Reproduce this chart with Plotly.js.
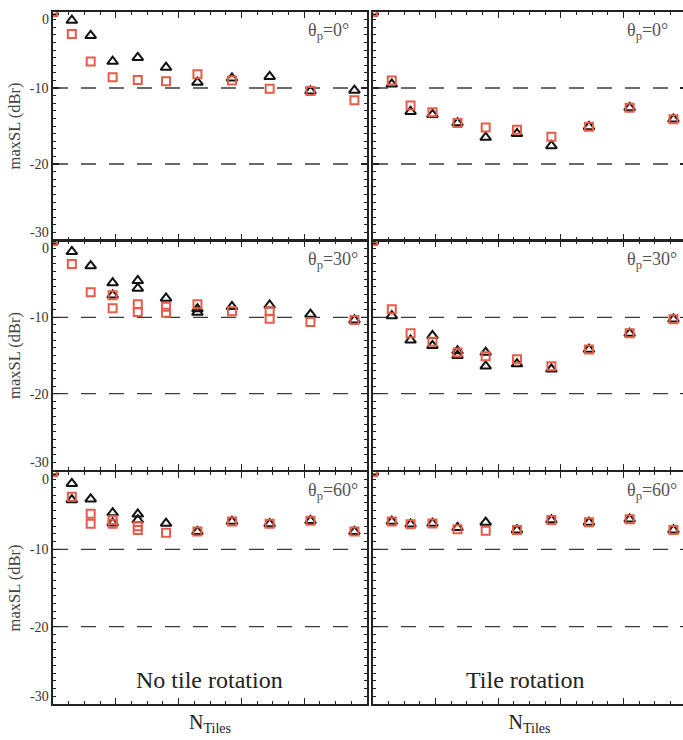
<!DOCTYPE html>
<html>
<head>
<meta charset="utf-8">
<script src="https://cdn.plot.ly/plotly-3.0.1.min.js"></script>
<style>
html,body{margin:0;padding:0;overflow:hidden;background:#fff;}
#chart{width:690px;height:740px;}
</style>
</head>
<body>
<div id="chart"></div>
<script>
// ---------- data ----------
var nTiles = [0, 6, 12, 19, 27, 36, 46, 57, 69, 82, 96];

// Panel: no tile rotation, theta_p = 0
var triX_NR0 = nTiles;
var triY_NR0 = [0, -1.1, -3.1, -6.5, -6.0, -7.3, -9.25, -8.7, -8.5, -10.4, -10.3];
var sqX_NR0 = nTiles;
var sqY_NR0 = [0, -2.9, -6.5, -8.6, -8.95, -9.1, -8.2, -9.0, -10.1, -10.4, -11.6];

// Panel: tile rotation, theta_p = 0
var triX_R0 = nTiles;
var triY_R0 = [0, -9.5, -13.1, -13.5, -14.6, -16.5, -16.0, -17.6, -15.1, -12.6, -14.1];
var sqX_R0 = nTiles;
var sqY_R0 = [0, -9.0, -12.3, -13.2, -14.6, -15.2, -15.5, -16.4, -15.1, -12.6, -14.1];

// Panel: no tile rotation, theta_p = 30
var triX_NR30 = [0, 6, 12, 19, 19, 27, 27, 36, 46, 46, 57, 69, 82, 96];
var triY_NR30 = [0, -1.4, -3.25, -5.5, -7.1, -5.2, -6.2, -7.5, -8.9, -9.35, -8.6, -8.4, -9.6, -10.35];
var sqX_NR30 = [0, 6, 12, 19, 19, 27, 27, 36, 36, 46, 57, 69, 69, 82, 96];
var sqY_NR30 = [0, -3.0, -6.7, -7.1, -8.8, -8.3, -9.3, -8.6, -9.4, -8.3, -9.2, -9.2, -10.2, -10.6, -10.35];

// Panel: tile rotation, theta_p = 30
var triX_R30 = [0, 6, 12, 19, 19, 27, 27, 36, 36, 46, 57, 69, 82, 96];
var triY_R30 = [0, -9.8, -13.0, -12.4, -13.7, -14.4, -15.0, -14.6, -16.4, -16.1, -16.8, -14.2, -12.1, -10.25];
var sqX_R30 = nTiles;
var sqY_R30 = [0, -8.95, -12.1, -13.2, -14.6, -15.1, -15.5, -16.4, -14.2, -12.1, -10.25];

// Panel: no tile rotation, theta_p = 60
var triX_NR60 = [0, 6, 6, 12, 19, 19, 27, 27, 36, 46, 57, 69, 82, 96];
var triY_NR60 = [0, -1.5, -3.6, -3.5, -5.3, -6.6, -5.45, -6.2, -6.65, -7.7, -6.4, -6.7, -6.3, -7.7];
var sqX_NR60 = [0, 6, 12, 12, 19, 19, 27, 27, 36, 46, 57, 69, 82, 96];
var sqY_NR60 = [0, -3.2, -5.4, -6.7, -6.2, -6.7, -7.0, -7.5, -7.85, -7.7, -6.4, -6.7, -6.3, -7.7];

// Panel: tile rotation, theta_p = 60
var triX_R60 = nTiles;
var triY_R60 = [0, -6.4, -6.75, -6.65, -7.2, -6.5, -7.5, -6.2, -6.5, -6.1, -7.5];
var sqX_R60 = nTiles;
var sqY_R60 = [0, -6.4, -6.75, -6.65, -7.4, -7.6, -7.5, -6.2, -6.5, -6.1, -7.5];

var thetaLabels = ['0', '30', '60'];
var columnLabels = ['No tile rotation', 'Tile rotation'];
var refLevels = [-10, -20];
var yTickVals = [-10, -20];
var yTickText = ['-10', '-20'];
var yEdgeVals = [0, -30];
var yEdgeText = ['0', '-30'];
var xMajor = [20, 40, 60, 80];
var yRange = [-30, 0];
var xRange = [0, 100];
var yTitle = 'maxSL (dBr)';
var xTitle = 'N<sub>Tiles</sub>';

// ---------- layout geometry ----------
var W = 690, H = 740;
var colPx = [[53, 367], [373, 686]];
var rowPx = [[12, 240], [241, 470], [472, 704]];
var panels = [
  {r:0, c:0, tx:triX_NR0, ty:triY_NR0, sx:sqX_NR0, sy:sqY_NR0},
  {r:0, c:1, tx:triX_R0, ty:triY_R0, sx:sqX_R0, sy:sqY_R0},
  {r:1, c:0, tx:triX_NR30, ty:triY_NR30, sx:sqX_NR30, sy:sqY_NR30},
  {r:1, c:1, tx:triX_R30, ty:triY_R30, sx:sqX_R30, sy:sqY_R30},
  {r:2, c:0, tx:triX_NR60, ty:triY_NR60, sx:sqX_NR60, sy:sqY_NR60},
  {r:2, c:1, tx:triX_R60, ty:triY_R60, sx:sqX_R60, sy:sqY_R60}
];

var SERIF = 'Liberation Serif, Times New Roman, serif';
var RED = '#e35d4a';
var AX = '#222';

var traces = [];
var layout = {
  width: W, height: H,
  margin: {l:0, r:0, t:0, b:0},
  paper_bgcolor: '#fff', plot_bgcolor: '#fff',
  showlegend: false,
  font: {family: SERIF, color: '#333'},
  shapes: [], annotations: []
};

panels.forEach(function(p, i) {
  var n = i + 1;
  var xk = 'x' + (n === 1 ? '' : n), yk = 'y' + (n === 1 ? '' : n);
  var xa = 'xaxis' + (n === 1 ? '' : n), ya = 'yaxis' + (n === 1 ? '' : n);
  traces.push({
    type: 'scatter', mode: 'markers', x: p.tx, y: p.ty, xaxis: xk, yaxis: yk,
    marker: {symbol: 'triangle-up-open', size: 9.5, color: '#111', line: {width: 2, color: '#111'}},
    hoverinfo: 'skip'
  });
  traces.push({
    type: 'scatter', mode: 'markers', x: p.sx, y: p.sy, xaxis: xk, yaxis: yk,
    marker: {symbol: 'square-open', size: 8, color: RED, line: {width: 2, color: RED}},
    hoverinfo: 'skip'
  });
  var cx = colPx[p.c], ry = rowPx[p.r];
  layout[xa] = {
    domain: [cx[0] / W, cx[1] / W], range: xRange, anchor: yk,
    showgrid: false, zeroline: false, showline: true, linecolor: AX, linewidth: 1.7,
    mirror: 'allticks', ticks: 'inside', ticklen: 6, tickwidth: 1.2, tickcolor: AX,
    tickmode: 'array', tickvals: xMajor, showticklabels: false,
    minor: {ticks: 'inside', ticklen: 3, tickwidth: 1, tickcolor: AX, tickmode: 'linear', tick0: 0, dtick: 5},
    fixedrange: true
  };
  if (p.r === 2) {
    layout[xa].title = {text: xTitle, font: {family: SERIF, size: 20, color: '#222'}, standoff: 10};
  }
  layout[ya] = {
    domain: [(H - ry[1]) / H, (H - ry[0]) / H], range: yRange, anchor: xk,
    showgrid: false, zeroline: false, showline: true, linecolor: AX, linewidth: 1.7,
    mirror: 'allticks', ticks: 'inside', ticklen: 6, tickwidth: 1.2, tickcolor: AX,
    tickmode: 'array', tickvals: yTickVals, ticktext: yTickText,
    showticklabels: p.c === 0,
    tickfont: {family: SERIF, size: 14, color: '#333'},
    minor: {ticks: 'inside', ticklen: 3, tickwidth: 1, tickcolor: AX, tickmode: 'linear', tick0: 0, dtick: 1},
    fixedrange: true
  };
  if (p.c === 0) {
    layout[ya].title = {text: yTitle, font: {family: SERIF, size: 16.5, color: '#444'}, standoff: 5};
    yEdgeVals.forEach(function(v, k) {
      layout.annotations.push({
        xref: xk + ' domain', yref: yk, x: 0, y: v, xanchor: 'right',
        yanchor: v === 0 ? 'top' : 'bottom', xshift: -2, yshift: v === 0 ? 2 : -2,
        text: yEdgeText[k], showarrow: false,
        font: {family: SERIF, size: 14, color: '#333'}
      });
    });
  }
  refLevels.forEach(function(v) {
    layout.shapes.push({
      type: 'line', xref: xk + ' domain', yref: yk, x0: 0, x1: 1, y0: v, y1: v,
      line: {color: '#3a3a3a', width: 1.3, dash: '15px,13px'}, layer: 'below'
    });
  });
  layout.annotations.push({
    xref: xk + ' domain', yref: yk + ' domain', x: 0.806, y: 1, yshift: -6,
    xanchor: 'left', yanchor: 'top',
    text: '\u03b8<sub>p</sub>=' + thetaLabels[p.r] + '\u00b0', showarrow: false,
    font: {family: SERIF, size: 18, color: '#555'}
  });
  if (p.r === 2) {
    layout.annotations.push({
      xref: xk + ' domain', yref: yk + ' domain', x: p.c === 0 ? 0.5 : 0.486, y: 0.103,
      xanchor: 'center', yanchor: 'middle', text: columnLabels[p.c], showarrow: false,
      font: {family: SERIF, size: 24, color: '#222'}
    });
  }
});

Plotly.newPlot('chart', traces, layout, {staticPlot: true, displayModeBar: false, responsive: false});
</script>
</body>
</html>
